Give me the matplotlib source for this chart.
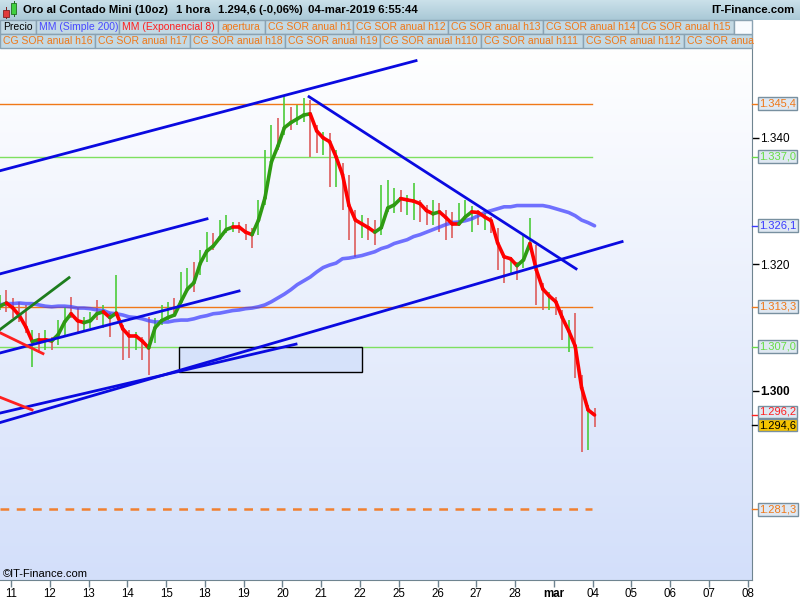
import numpy as np
import matplotlib
matplotlib.use("Agg")
import matplotlib.pyplot as plt
from matplotlib.collections import LineCollection
from matplotlib.colors import LinearSegmentedColormap
from matplotlib.patches import Rectangle

plt.rcParams['font.family'] = ['Liberation Sans', 'DejaVu Sans']

# price data, hourly bars grouped 6 per trading day (x in trading days, 0 = 11 feb)
bars_per_day = 6
first_bar = -0.284

highs = [1.3152, 1.3160, 1.3147, 1.3141, 1.3136, 1.3097, 1.3092, 1.3097, 1.3085, 1.3112,
         1.3133, 1.3149, 1.3131, 1.3117, 1.3125, 1.3144, 1.3136, 1.3123, 1.3183, 1.3104,
         1.3097, 1.3093, 1.3085, 1.3117, 1.3116, 1.3136, 1.3141, 1.3147, 1.3188, 1.3195,
         1.3204, 1.3223, 1.3251, 1.3250, 1.3270, 1.3278, 1.3267, 1.3267, 1.3264, 1.3258,
         1.3302, 1.3381, 1.3421, 1.3432, 1.3468, 1.3448, 1.3452, 1.3463, 1.3460, 1.3421,
         1.3410, 1.3408, 1.3381, 1.3361, 1.3342, 1.3286, 1.3278, 1.3274, 1.3270, 1.3326,
         1.3334, 1.3321, 1.3318, 1.3310, 1.3329, 1.3302, 1.3294, 1.3302, 1.3297, 1.3286,
         1.3283, 1.3297, 1.3302, 1.3293, 1.3286, 1.3282, 1.3275, 1.3258, 1.3215, 1.3212,
         1.3204, 1.3247, 1.3274, 1.3231, 1.3171, 1.3157, 1.3149, 1.3128, 1.3112, 1.3123,
         1.3025, 1.2978, 1.2973]
lows = [1.3128, 1.3125, 1.3116, 1.3109, 1.3092, 1.3038, 1.3060, 1.3065, 1.3065, 1.3073,
        1.3085, 1.3116, 1.3092, 1.3097, 1.3100, 1.3112, 1.3100, 1.3085, 1.3120, 1.3049,
        1.3052, 1.3065, 1.3049, 1.3025, 1.3076, 1.3104, 1.3112, 1.3123, 1.3144, 1.3157,
        1.3157, 1.3183, 1.3204, 1.3223, 1.3239, 1.3250, 1.3251, 1.3250, 1.3239, 1.3226,
        1.3247, 1.3294, 1.3357, 1.3381, 1.3405, 1.3413, 1.3421, 1.3425, 1.3370, 1.3376,
        1.3373, 1.3323, 1.3323, 1.3286, 1.3239, 1.3212, 1.3242, 1.3239, 1.3231, 1.3247,
        1.3283, 1.3282, 1.3283, 1.3278, 1.3270, 1.3267, 1.3263, 1.3263, 1.3251, 1.3239,
        1.3242, 1.3261, 1.3270, 1.3251, 1.3263, 1.3255, 1.3250, 1.3191, 1.3171, 1.3183,
        1.3175, 1.3195, 1.3223, 1.3136, 1.3128, 1.3128, 1.3120, 1.3081, 1.3062, 1.3021,
        1.2904, 1.2907, 1.2943]
# g = up bar, r = down bar
bar_dirs = ("grrrrgrgrg" "grrggrgrgr" "rgrrgggrgg" "rggrgggrrr" "gggrgrggrr"
            "grgrrrgrrg" "ggrggrrgrr" "rgggrgrrrg" "rggrrgrrgr" "rgr")

ema8 = [1.3134, 1.3139, 1.3131, 1.3119, 1.3101, 1.3078, 1.3081, 1.3081, 1.3079, 1.3089,
        1.3109, 1.3122, 1.3111, 1.3108, 1.3111, 1.3122, 1.3125, 1.3116, 1.3123, 1.3098,
        1.3087, 1.3087, 1.3079, 1.3068, 1.3100, 1.3111, 1.3116, 1.3120, 1.3141, 1.3161,
        1.3171, 1.3202, 1.3221, 1.3229, 1.3242, 1.3255, 1.3259, 1.3259, 1.3251, 1.3247,
        1.3270, 1.3305, 1.3362, 1.3387, 1.3416, 1.3424, 1.3430, 1.3436, 1.3438, 1.3411,
        1.3400, 1.3394, 1.3370, 1.3342, 1.3293, 1.3270, 1.3264, 1.3258, 1.3251, 1.3258,
        1.3289, 1.3294, 1.3304, 1.3302, 1.3300, 1.3296, 1.3285, 1.3280, 1.3283, 1.3274,
        1.3264, 1.3264, 1.3275, 1.3283, 1.3282, 1.3275, 1.3269, 1.3234, 1.3212, 1.3209,
        1.3198, 1.3207, 1.3233, 1.3191, 1.3161, 1.3150, 1.3141, 1.3116, 1.3095, 1.3071,
        1.3005, 1.2970, 1.2962]
sma200 = [1.3136, 1.3138, 1.3138, 1.3139, 1.3138, 1.3138, 1.3136, 1.3134, 1.3133, 1.3134,
          1.3134, 1.3133, 1.3131, 1.3131, 1.3130, 1.3128, 1.3127, 1.3123, 1.3122, 1.3120,
          1.3117, 1.3116, 1.3114, 1.3111, 1.3109, 1.3109, 1.3109, 1.3111, 1.3112, 1.3112,
          1.3114, 1.3117, 1.3119, 1.3122, 1.3123, 1.3125, 1.3127, 1.3128, 1.3130, 1.3131,
          1.3133, 1.3136, 1.3141, 1.3147, 1.3153, 1.3160, 1.3168, 1.3174, 1.3180, 1.3188,
          1.3195, 1.3199, 1.3202, 1.3209, 1.3210, 1.3212, 1.3214, 1.3217, 1.3220, 1.3225,
          1.3228, 1.3233, 1.3236, 1.3239, 1.3244, 1.3247, 1.3251, 1.3255, 1.3259, 1.3263,
          1.3266, 1.3267, 1.3269, 1.3272, 1.3277, 1.3282, 1.3285, 1.3288, 1.3291, 1.3291,
          1.3293, 1.3293, 1.3293, 1.3293, 1.3293, 1.3291, 1.3288, 1.3285, 1.3282, 1.3277,
          1.3270, 1.3266, 1.3261]

day_labels = ["11", "12", "13", "14", "15", "18", "19", "20", "21", "22",
              "25", "26", "27", "28", "mar", "04", "05", "06", "07", "08"]

# horizontal levels (price, colour) drawn up to the last bar
levels = [1.3454, 1.3370, 1.3133, 1.3070]
level_colors = ['#f07818', '#7ee060', '#f07818', '#7ee060']
dashed_level = 1.2813
level_end = 14.99

# drawn trend lines: (x0, p0, x1, p1)
blue_lines = [(-0.284, 1.3348, 10.446, 1.3522),
              (-0.284, 1.3185, 5.055, 1.3272),
              (-0.284, 1.3060, 5.881, 1.3158),
              (-0.284, 1.2965, 7.351, 1.3074),
              (-0.284, 1.2950, 15.76, 1.3236),
              (7.686, 1.3465, 14.573, 1.3193)]
green_lines = [(-0.284, 1.3097, 1.496, 1.3179)]
red_lines = [(-0.284, 1.3092, 0.825, 1.3059),
             (-0.284, 1.2990, 0.542, 1.2970)]
box_zone = (4.333, 1.3030, 9.053, 1.3070)

# right axis value tags: price, text, text colour, box colour, nudge in px
tags = [(1.3454, '1.345,4', '#f07818', '#dfe8f2', 0),
        (1.3370, '1.337,0', '#66dd44', '#dfe8f2', 0),
        (1.3261, '1.326,1', '#3a3aff', '#dfe8f2', 0),
        (1.3133, '1.313,3', '#f07818', '#dfe8f2', 0),
        (1.3070, '1.307,0', '#66dd44', '#dfe8f2', 0),
        (1.2962, '1.296,2', '#ff2020', '#dfe8f2', 3),
        (1.2946, '1.294,6', '#000000', '#f6c400', 0),
        (1.2813, '1.281,3', '#f07818', '#dfe8f2', 0)]

row1_labels = ["Precio", "MM (Simple 200)", "MM (Exponencial 8)", "apertura",
               "CG SOR anual h1", "CG SOR anual h12", "CG SOR anual h13",
               "CG SOR anual h14", "CG SOR anual h15"]
row1_colors = ['black', '#4848ff', '#ff2020'] + ['#f07818'] * 6
row1_edges = [0, 36, 119, 218, 265, 353, 448, 543, 638, 734]
row2_labels = ["CG SOR anual h16", "CG SOR anual h17", "CG SOR anual h18",
               "CG SOR anual h19", "CG SOR anual h110", "CG SOR anual h111",
               "CG SOR anual h112", "CG SOR anua"]
row2_edges = [0, 95, 190, 285, 380, 481, 583, 684, 752]

W, H = 800, 600
fig = plt.figure(figsize=(8, 6), dpi=100)


def fig_rect(x0, y0, x1, y1, **kw):
    fig.add_artist(Rectangle((x0 / W, 1 - y1 / H), (x1 - x0) / W, (y1 - y0) / H,
                             transform=fig.transFigure, **kw))


ax = fig.add_axes([0, 20 / H, 752 / W, 532 / H])
ax.set_xlim(-0.284, 19.11)
ax.set_ylim(1.27012, 1.35420)

grad = np.linspace(0, 1, 256).reshape(-1, 1)
bg = LinearSegmentedColormap.from_list('bg', ['#d3dffa', '#ffffff'])
ax.imshow(grad, cmap=bg, aspect='auto', extent=[0, 1, 0, 1], origin='lower',
          transform=ax.transAxes, zorder=0)

x = first_bar + np.arange(len(ema8)) / bars_per_day

# levels
for lv, c in zip(levels, level_colors):
    ax.plot([-0.284, level_end], [lv, lv], color=c, lw=1.0, zorder=2)
ax.plot([-0.284, level_end], [dashed_level, dashed_level], color='#f08030',
        lw=1.8, dashes=(3.5, 3.0), zorder=2)

# rectangle zone
bx0, bp0, bx1, bp1 = box_zone
ax.add_patch(Rectangle((bx0, bp0), bx1 - bx0, bp1 - bp0, facecolor='#d6e2fa',
                       edgecolor='black', lw=1.0, zorder=2.5))

# bars
bar_cols = ['#4ccc3a' if d == 'g' else '#dd5c5c' for d in bar_dirs]
ax.vlines(x, lows, highs, colors=bar_cols, lw=1.2, zorder=3)

# SMA 200
ax.plot(x, sma200, color='#4444ff', lw=2.6, alpha=0.75, zorder=4, solid_capstyle='round')

# EMA 8, coloured by direction
pts = np.column_stack([x, ema8])
segs = np.stack([pts[:-1], pts[1:]], axis=1)
ema_cols = ['#2e9a12' if b > a else '#ff0000' for a, b in zip(ema8[:-1], ema8[1:])]
ax.add_collection(LineCollection(segs, colors=ema_cols, linewidths=2.6,
                                 capstyle='round', zorder=5))

# trend lines
for x0, p0, x1, p1 in blue_lines:
    ax.plot([x0, x1], [p0, p1], color='#0a0ae0', lw=2.0, zorder=6)
for x0, p0, x1, p1 in green_lines:
    ax.plot([x0, x1], [p0, p1], color='#1d7d1d', lw=2.0, zorder=6)
for x0, p0, x1, p1 in red_lines:
    ax.plot([x0, x1], [p0, p1], color='#ff2020', lw=2.0, zorder=6)

# axes styling
for s in ['left', 'top']:
    ax.spines[s].set_visible(False)
ax.spines['right'].set_color('#6f8490')
ax.spines['bottom'].set_color('#6f8490')
ax.yaxis.tick_right()
ax.set_yticks([1.30, 1.32, 1.34])
ax.set_yticklabels(['1.300', '1.320', '1.340'])
ax.get_yticklabels()[0].set_fontweight('bold')
ax.tick_params(axis='y', length=5, width=1, colors='black', labelsize=8.5, pad=1)
ax.set_xticks(range(len(day_labels)))
ax.set_xticklabels(day_labels)
for t in ax.get_xticklabels():
    if t.get_text() == 'mar':
        t.set_fontweight('bold')
ax.tick_params(axis='x', length=5, width=1, color='#6f8490', labelsize=8.3, pad=1)

ytr = ax.get_yaxis_transform()
for p, txt, tc, fc, nudge in tags:
    ax.plot([1.0, 1.0 + 5 / 752], [p, p], color=tc, lw=1.0, transform=ytr,
            clip_on=False, zorder=7)
    ax.annotate(txt, xy=(1.0, p), xycoords=ytr, xytext=(7, nudge),
                textcoords='offset pixels', va='center', ha='left', fontsize=8,
                color=tc, zorder=8,
                bbox=dict(boxstyle='square,pad=0.12', fc=fc, ec='#7890a0', lw=1))

# header bar
hdr = fig.add_axes([0, 1 - 20 / H, 1, 20 / H])
hdr.imshow(grad, cmap=LinearSegmentedColormap.from_list('h', ['#a9c8d6', '#cbe1ea']),
           aspect='auto', extent=[0, 1, 0, 1], origin='lower')
hdr.set_axis_off()

# candle icon
fig_rect(5.5, 7, 6.5, 19, facecolor='#802020', edgecolor='none')
fig_rect(3, 10, 9, 17, facecolor='#e03a3a', edgecolor='#802020', lw=0.6)
fig_rect(13.5, 1, 14.5, 17, facecolor='#207020', edgecolor='none')
fig_rect(11, 3, 16, 14, facecolor='#40d040', edgecolor='#207020', lw=0.6)

hy = 1 - 10 / H
fig.text(23 / W, hy, "Oro al Contado Mini (10oz)", fontsize=8.2, fontweight='bold', va='center')
fig.text(176 / W, hy, "1 hora", fontsize=8.2, fontweight='bold', va='center')
fig.text(218 / W, hy, "1.294,6 (-0,06%)", fontsize=8.2, fontweight='bold', va='center')
fig.text(308 / W, hy, "04-mar-2019 6:55:44", fontsize=8.2, fontweight='bold', va='center')
fig.text(795 / W, hy, "IT-Finance.com", fontsize=8.2, fontweight='bold', va='center', ha='right')

# legend cells
for row, (labels, edges, colors) in enumerate([(row1_labels, row1_edges, row1_colors),
                                               (row2_labels, row2_edges, ['#f07818'] * 8)]):
    y0 = 20 + 14 * row
    for lab, a, b, c in zip(labels, edges[:-1], edges[1:], colors):
        fig_rect(a, y0, b, y0 + 14, facecolor='#c3d9e4', edgecolor='#8aa2b2', lw=1)
        fig.text((a + 3) / W, 1 - (y0 + 7.5) / H, lab, fontsize=7.5, color=c, va='center')
fig_rect(734, 20, 752, 34, facecolor='#f8fbff', edgecolor='#8aa2b2', lw=1)

fig.text(3 / W, 1 - 574 / H, "\u00a9IT-Finance.com", fontsize=8, va='center')

fig.savefig("out.png", dpi=100)
